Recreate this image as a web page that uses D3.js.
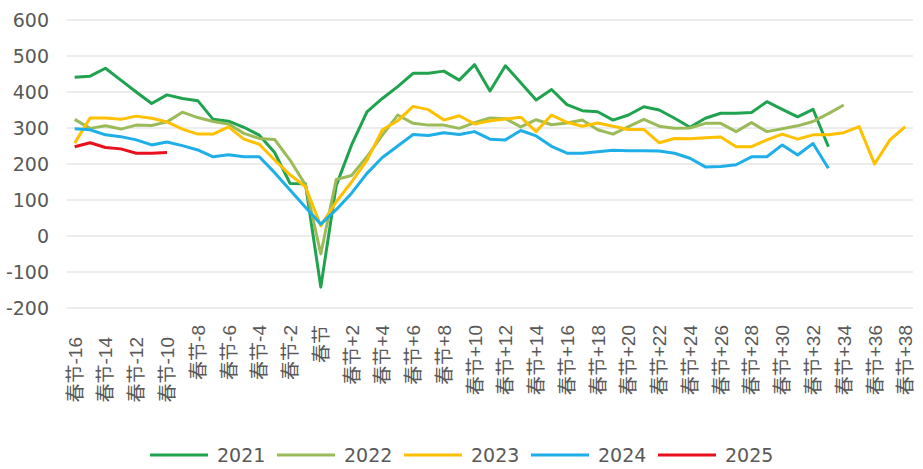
<!DOCTYPE html>
<html>
<head>
<meta charset="utf-8">
<script src="https://cdn.jsdelivr.net/npm/d3@7/dist/d3.min.js"></script>
<style>
  body { margin: 0; background: #fff; }
</style>
</head>
<body>
<svg id="chart"></svg>
<script>
// days relative to Spring Festival
var offsets = [-16,-15,-14,-13,-12,-11,-10,-9,-8,-7,-6,-5,-4,-3,-2,-1,0,
  1,2,3,4,5,6,7,8,9,10,11,12,13,14,15,16,17,18,19,20,
  21,22,23,24,25,26,27,28,29,30,31,32,33,34,35,36,37,38]

var yTicks = [-200,-100,0,100,200,300,400,500,600]

var years = ['2021','2022','2023','2024','2025']
var colors = ['#1fa34f','#9bbb59','#ffc000','#1eaee8','#e8101c']

var v2021 = [441,444,466,433,400,368,392,382,376,324,319,302,280,232,146,145,-142,
  140,253,345,382,415,452,452,458,433,476,403,473,426,378,407,365,348,345,322,336,359,350,
  327,302,327,341,341,343,373,352,331,352,248]
var v2022 = [324,299,306,297,308,307,317,344,329,318,311,285,271,268,211,142,-50,
  157,168,220,280,336,313,308,308,299,315,328,326,303,323,309,314,322,295,283,304,324,305,
  299,300,313,313,290,315,290,298,306,318,340,364]
var v2023 = [258,328,328,324,333,327,317,297,283,283,303,269,255,211,170,137,28,
  95,150,210,295,320,360,351,322,334,311,320,325,330,290,336,316,305,314,305,296,296,259,
  271,270,273,275,248,248,267,283,269,281,281,287,304,200,267,304]
var v2024 = [298,295,281,276,267,253,261,251,239,220,226,220,220,176,128,80,33,
  73,119,174,218,250,282,279,287,282,290,269,267,293,278,249,230,230,234,238,237,237,236,
  230,216,192,193,198,220,220,253,225,257,188]
var v2025 = [248,259,246,242,230,230,232]

var series = [v2021, v2022, v2023, v2024, v2025]

var width = 923, height = 469
var svg = d3.select('#chart').attr('width', width).attr('height', height)

var labelOf = function(d) {
    if (d === 0) return '春节'
    return '春节' + (d > 0 ? '+' + d : d)
}

var x = d3.scalePoint().domain(offsets).range([67, 913]).padding(0.5)
var y = d3.scaleLinear().domain([-200, 600]).range([308, 20])

// gridlines
svg.append('g')
    .selectAll('line')
    .data(yTicks)
    .join('line')
    .attr('x1', 67)
    .attr('x2', 913)
    .attr('y1', d => y(d))
    .attr('y2', d => y(d))
    .attr('stroke', '#d9d9d9')
    .attr('stroke-width', 1)

// y axis labels
svg.append('g')
    .selectAll('text')
    .data(yTicks)
    .join('text')
    .text(d => d)
    .attr('x', 49)
    .attr('y', d => y(d))
    .attr('dy', '0.36em')
    .attr('text-anchor', 'end')
    .attr('font-family', 'DejaVu Sans')
    .attr('font-size', '19px')
    .attr('fill', '#595959')

// x axis labels, every second day, rotated
var xTicks = offsets.filter(d => d % 2 === 0)
svg.append('g')
    .selectAll('text')
    .data(xTicks)
    .join('text')
    .text(d => labelOf(d))
    .attr('transform', d => 'translate(' + (x(d) + 7) + ',' + (d < -9 ? 337 : 325) + ') rotate(-90)')
    .attr('text-anchor', 'end')
    .attr('font-family', 'Liberation Sans, Noto Sans CJK SC')
    .attr('font-size', '19px')
    .attr('fill', '#595959')

var line = d3.line()
    .defined(d => d != null)
    .x((d, i) => x(offsets[i]))
    .y(d => y(d))

svg.append('g')
    .selectAll('path')
    .data(series)
    .join('path')
    .attr('d', d => line(d))
    .attr('fill', 'none')
    .attr('stroke', (d, i) => colors[i])
    .attr('stroke-width', 3)
    .attr('stroke-linejoin', 'round')

// legend
var legend = svg.append('g')
    .selectAll('g')
    .data(years)
    .join('g')
    .attr('transform', (d, i) => 'translate(' + (150 + i * 127) + ',455)')

legend.append('line')
    .attr('x1', 0)
    .attr('x2', 58)
    .attr('stroke', (d, i) => colors[i])
    .attr('stroke-width', 3)

legend.append('text')
    .text(d => d)
    .attr('x', 67)
    .attr('dy', '0.36em')
    .attr('font-family', 'DejaVu Sans')
    .attr('font-size', '19px')
    .attr('fill', '#595959')
</script>
</body>
</html>
